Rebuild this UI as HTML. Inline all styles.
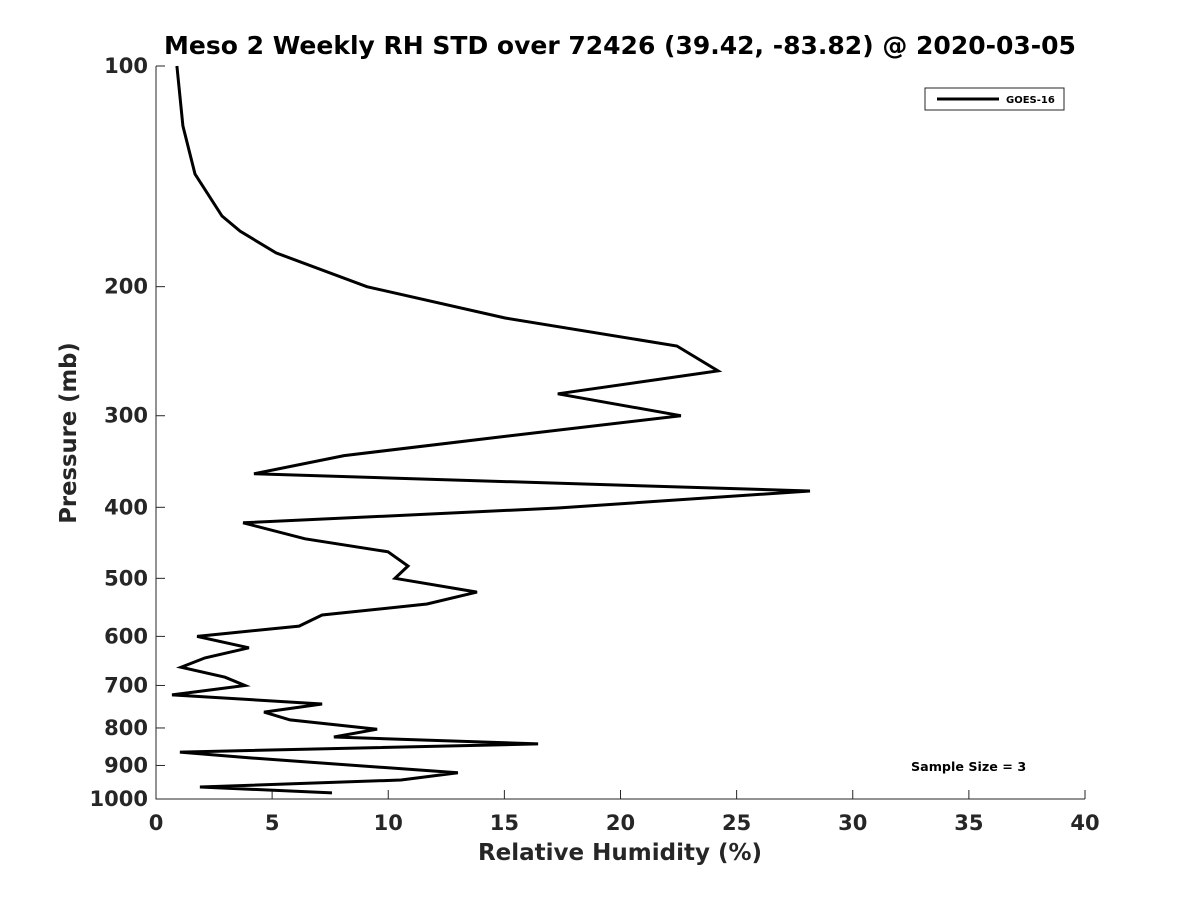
<!DOCTYPE html>
<html><head><meta charset="utf-8"><style>
body{margin:0;background:#fff}
svg text{font-family:"DejaVu Sans","Liberation Sans",sans-serif;font-weight:bold;fill:#262626}
</style></head><body>
<svg width="1200" height="900">
<rect width="1200" height="900" fill="#fff"/>
<text x="620" y="54" text-anchor="middle" font-size="25" style="fill:#000">Meso 2 Weekly RH STD over 72426 (39.42, -83.82) @ 2020-03-05</text>
<g id="axes"></g>
<g id="plot"></g>
<g>
<rect x="925" y="88" width="139" height="22" fill="#fff" stroke="#262626" stroke-width="1"/>
<line x1="937" y1="99" x2="999" y2="99" stroke="#000" stroke-width="3"/>
<text x="1006" y="103" font-size="10" style="fill:#000">GOES-16</text>
</g>
<text x="911" y="771" font-size="12.7" style="fill:#000">Sample Size = 3</text>
<text x="620" y="860" text-anchor="middle" font-size="23">Relative Humidity (%)</text>
<text transform="translate(76,433) rotate(-90)" text-anchor="middle" font-size="22.7">Pressure (mb)</text>
</svg>
<script>
const rh=[0.9,1.16,1.68,2.84,3.62,5.17,9.08,15.03,22.43,24.2,17.3,22.6,15.16,8.1,4.22,28.16,17.3,3.75,6.42,9.99,10.85,10.29,13.82,11.67,7.15,6.16,1.77,4.0,2.11,1.08,2.97,3.83,0.69,7.15,4.65,5.77,9.52,7.66,16.45,1.03,4.05,13.0,10.55,1.89,7.58];
const pres=[100,120.7,140.4,160.2,168,179.9,200,220.7,241,260.6,280,300,319.7,340,360,380,400.9,420,441.6,460,481,500,522,542,561,581,600,622,642,661,682,700,721,742,761,780,803,823,841,863,879,921,942,963,981];
const xTicks=[0,5,10,15,20,25,30,35,40];
const yTicks=[100,200,300,400,500,600,700,800,900,1000];
const X0=156,X1=1085,Y0=66,Y1=799;
const xs=v=>X0+(v-0)/40*(X1-X0);
const ys=p=>Y0+(Math.log10(p)-2)*(Y1-Y0);
const NS="http://www.w3.org/2000/svg";
const axes=document.getElementById('axes'),plot=document.getElementById('plot');
function mk(tag,at,par){const e=document.createElementNS(NS,tag);for(const k in at)e.setAttribute(k,at[k]);par.appendChild(e);return e;}
let ax=mk('path',{d:`M${X0},${Y0}V${Y1}H${X1}`,fill:'none',stroke:'#262626','stroke-width':1},axes);


xTicks.forEach(v=>{const x=xs(v);
 const t=mk('line',{x1:x,y1:Y1,x2:x,y2:Y1-9,stroke:'#262626'},axes);
 
 
 const l=mk('text',{x:x,y:Y1+31,'text-anchor':'middle','font-size':21},axes);l.textContent=v;
 
 });
yTicks.forEach(p=>{const y=ys(p);
 const t=mk('line',{x1:X0,y1:y,x2:X0+9,y2:y,stroke:'#262626'},axes);
 
 
 const l=mk('text',{x:X0-8,y:y+7,'text-anchor':'end','font-size':21},axes);l.textContent=p;
 
 });
const d=rh.map((v,i)=>(i?'L':'M')+xs(v).toFixed(1)+','+ys(pres[i]).toFixed(1)).join('');
const ln=mk('path',{d:d,fill:'none',stroke:'#000','stroke-width':3,'stroke-linejoin':'miter'},plot);


</script>
</body></html>
